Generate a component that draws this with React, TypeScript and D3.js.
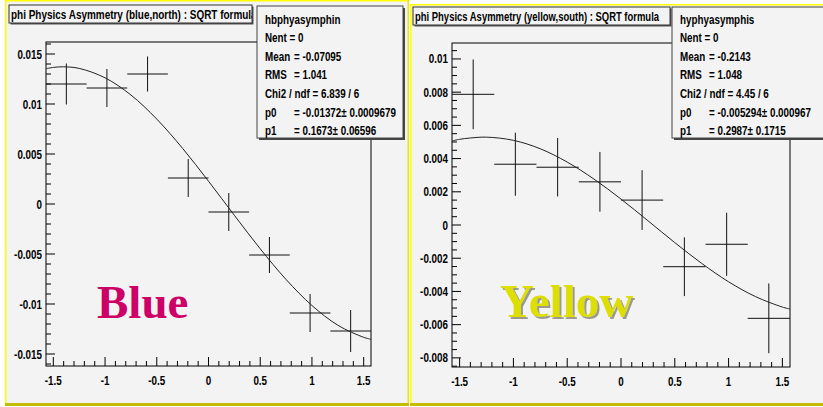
import React from 'react';
import * as d3 from 'd3';

// ---------- data ----------
const binCenters = [-1.374, -0.982, -0.589, -0.196, 0.196, 0.589, 0.982, 1.374];
const binHalfWidth = 0.1963;

const blueValues = [0.012, 0.0116, 0.013, 0.0026, -0.0008, -0.0051, -0.0109, -0.0127];
const blueErrors = [0.00205, 0.0019, 0.00175, 0.0019, 0.0019, 0.0018, 0.0019, 0.0021];

const yellowValues = [0.00787, 0.00366, 0.00348, 0.0026, 0.0015, -0.00251, -0.00116, -0.00562];
const yellowErrors = [0.0021, 0.0019, 0.00176, 0.0018, 0.0018, 0.00177, 0.0019, 0.0021];

const fitX = [-1.571, -1.5, -1.4, -1.25, -1.0, -0.75, -0.5, -0.25, 0, 0.25, 0.5, 0.75, 1.0, 1.25, 1.5, 1.571];
const blueFit = [0.01353, 0.01366, 0.01372, 0.01356, 0.01262, 0.0109, 0.00849, 0.00556, 0.00228, -0.00113, -0.00448, -0.00755, -0.01015, -0.01212, -0.01333, -0.01353];
const yellowFit = [0.00506, 0.00516, 0.00524, 0.00529, 0.0051, 0.00459, 0.00379, 0.00276, 0.00156, 0.00026, -0.00106, -0.00231, -0.00342, -0.00431, -0.00494, -0.00506];

const xTicks = [-1.5, -1, -0.5, 0, 0.5, 1, 1.5];
const blueYTicks = [-0.015, -0.01, -0.005, 0, 0.005, 0.01, 0.015];
const yellowYTicks = [-0.008, -0.006, -0.004, -0.002, 0, 0.002, 0.004, 0.006, 0.008, 0.01];

const blueTitle = 'phi Physics Asymmetry (blue,north) : SQRT formula';
const yellowTitle = 'phi Physics Asymmetry (yellow,south) : SQRT formula';

const blueStatName = 'hbphyasymphin';
const yellowStatName = 'hyphyasymphis';
const blueStatRows: [string, string | null][] = [
  ['Nent = 0', null],
  ['Mean', '= -0.07095'],
  ['RMS', '=  1.041'],
  ['Chi2 / ndf = 6.839 / 6', null],
  ['p0', '= -0.01372\u00b1 0.0009679'],
  ['p1', '= 0.1673\u00b1 0.06596'],
];
const yellowStatRows: [string, string | null][] = [
  ['Nent = 0', null],
  ['Mean', '= -0.2143'],
  ['RMS', '=  1.048'],
  ['Chi2 / ndf =  4.45 / 6', null],
  ['p0', '= -0.005294\u00b1 0.000967'],
  ['p1', '= 0.2987\u00b1 0.1715'],
];

// ---------- styling ----------
const FONT = "'Liberation Sans', Arial, Helvetica, sans-serif";
const SERIF = "'Liberation Serif', 'Times New Roman', serif";
const SX = 0.82;
const BG = '#f3f3f3';

function T({ x, y, anchor = 'start', size = 12, sx = SX, children }: any) {
  return (
    <text
      transform={`translate(${x},${y}) scale(${sx},1)`}
      textAnchor={anchor}
      fontSize={size}
      fontWeight="bold"
      fontFamily={FONT}
      fill="#000"
    >
      {children}
    </text>
  );
}

const fmt = (v: number) => (+v.toFixed(5)).toString();

function Panel({ cfg }: any) {
  const x = d3.scaleLinear().domain([-Math.PI / 2, Math.PI / 2]).range([cfg.fx0, cfg.fx1]);
  const y = d3.scaleLinear().domain(cfg.yDomain).range([cfg.fy1, cfg.fy0]);
  const fitLine = d3
    .line<number>()
    .x((_, i) => x(fitX[i]))
    .y((d) => y(d))
    .curve(d3.curveCatmullRom);

  const xMinor = d3.range(-15, 16).filter((i) => i % 5 !== 0).map((i) => i / 10);
  const yMinor = d3
    .range(Math.ceil(cfg.yDomain[0] / cfg.minor - 1e-6), Math.floor(cfg.yDomain[1] / cfg.minor + 1e-6) + 1)
    .filter((i) => i % cfg.ratio !== 0)
    .map((i) => i * cfg.minor);

  const p = cfg.pad;
  const sb = cfg.stats;
  const rowY = [19.5, 37.5, 56.5, 75, 93.5, 112.5, 131];
  const clipId = `titleclip-${cfg.id}`;
  const filtId = `shadow-${cfg.id}`;

  return (
    <g>
      <defs>
        <filter id={filtId} x="-10%" y="-10%" width="130%" height="140%">
          <feDropShadow dx={2} dy={2} stdDeviation={0.6} floodColor="#9a9a90" floodOpacity={1} />
        </filter>
        <clipPath id={clipId}>
          <rect x={cfg.tb.x} y={cfg.tb.y} width={cfg.tb.w} height={cfg.tb.h} />
        </clipPath>
      </defs>

      {/* pad */}
      <rect x={p.x} y={p.y} width={p.w} height={p.h} fill={BG} />
      <rect x={p.x} y={p.y} width={p.w} height={1.5} fill="#ffff00" />
      <rect x={p.x} y={p.y} width={1.5} height={p.h} fill="#ffff00" />
      <rect x={p.x + p.w - 1.5} y={p.y} width={1.5} height={p.h} fill="#e8e800" />
      <rect x={p.x} y={p.y + p.h - 3} width={p.w} height={3} fill="#c4bc00" />

      {/* ticks */}
      {xTicks.map((t) => (
        <g key={'xt' + t}>
          <line x1={x(t)} x2={x(t)} y1={cfg.fy1} y2={cfg.fy1 - 9} stroke="#000" strokeWidth={1} />
          <T x={x(t)} y={cfg.fy1 + 19} anchor="middle">{fmt(t)}</T>
        </g>
      ))}
      {xMinor.map((t) => (
        <line key={'xm' + t} x1={x(t)} x2={x(t)} y1={cfg.fy1} y2={cfg.fy1 - 5} stroke="#000" strokeWidth={1} />
      ))}
      {cfg.yTicks.map((t: number) => (
        <g key={'yt' + t}>
          <line x1={cfg.fx0} x2={cfg.fx0 + 9} y1={y(t)} y2={y(t)} stroke="#000" strokeWidth={1} />
          <T x={cfg.fx0 - 4} y={y(t) + 4.5} anchor="end">{fmt(t)}</T>
        </g>
      ))}
      {yMinor.map((t: number) => (
        <line key={'ym' + t} x1={cfg.fx0} x2={cfg.fx0 + 5} y1={y(t)} y2={y(t)} stroke="#000" strokeWidth={1} />
      ))}
      <rect x={cfg.fx0} y={cfg.fy0} width={cfg.fx1 - cfg.fx0} height={cfg.fy1 - cfg.fy0} fill="none" stroke="#000" strokeWidth={1} />

      {/* data crosses */}
      {binCenters.map((c, i) => (
        <g key={'pt' + i} stroke="#111" strokeWidth={1}>
          <line x1={x(c - binHalfWidth)} x2={x(c + binHalfWidth)} y1={y(cfg.values[i])} y2={y(cfg.values[i])} />
          <line x1={x(c)} x2={x(c)} y1={y(cfg.values[i] + cfg.errors[i])} y2={y(cfg.values[i] - cfg.errors[i])} />
        </g>
      ))}
      <path d={fitLine(cfg.fit) || ''} fill="none" stroke="#222" strokeWidth={1} />

      {/* big label */}
      <text
        x={cfg.label.x}
        y={cfg.label.y}
        fontSize={47}
        fontWeight="bold"
        fontFamily={SERIF}
        fill={cfg.label.color}
        filter={cfg.shadow ? `url(#${filtId})` : undefined}
      >
        {cfg.label.text}
      </text>

      {/* title box */}
      <rect x={cfg.tb.x + 1.5} y={cfg.tb.y + 1.5} width={cfg.tb.w} height={cfg.tb.h} fill="#555" />
      <rect x={cfg.tb.x} y={cfg.tb.y} width={cfg.tb.w} height={cfg.tb.h} fill={BG} stroke="#333" strokeWidth={1} />
      <g clipPath={`url(#${clipId})`}>
        <T x={cfg.tb.x + 2} y={cfg.tb.y + 14} sx={cfg.tb.sx}>{cfg.title}</T>
      </g>

      {/* stats box */}
      <rect x={sb.x + 2} y={sb.y + 2} width={sb.w} height={sb.h} fill="#444" />
      <rect x={sb.x} y={sb.y} width={sb.w} height={sb.h} fill={BG} stroke="#444" strokeWidth={1} />
      <T x={sb.x + 8} y={rowY[0] + 4}>{cfg.statName}</T>
      {cfg.statRows.map((r: [string, string | null], i: number) => (
        <g key={'sr' + i}>
          <T x={sb.x + 8} y={rowY[i + 1] + 4}>{r[0]}</T>
          {r[1] && <T x={sb.x + 37} y={rowY[i + 1] + 4}>{r[1]}</T>}
        </g>
      ))}
    </g>
  );
}

const panels = [
  {
    id: 'blue',
    pad: { x: 5, y: 0, w: 404, h: 406 },
    fx0: 46, fx1: 371, fy0: 42, fy1: 366,
    yDomain: [-0.0162, 0.0162],
    yTicks: blueYTicks,
    minor: 0.001, ratio: 5,
    values: blueValues, errors: blueErrors, fit: blueFit,
    label: { text: 'Blue', x: 97, y: 318, color: '#cc0066' },
    shadow: false,
    tb: { x: 9, y: 5, w: 243, h: 18, sx: 0.83 },
    title: blueTitle,
    stats: { x: 257, y: 6, w: 146, h: 132 },
    statName: blueStatName,
    statRows: blueStatRows,
  },
  {
    id: 'yellow',
    pad: { x: 410, y: 4, w: 420, h: 402 },
    fx0: 452, fx1: 790, fy0: 43, fy1: 367,
    yDomain: [-0.00855, 0.01096],
    yTicks: yellowYTicks,
    minor: 0.0005, ratio: 4,
    values: yellowValues, errors: yellowErrors, fit: yellowFit,
    label: { text: 'Yellow', x: 500, y: 317, color: '#dede00' },
    shadow: true,
    tb: { x: 413, y: 7, w: 257, h: 18, sx: 0.788 },
    title: yellowTitle,
    stats: { x: 672, y: 7, w: 160, h: 131 },
    statName: yellowStatName,
    statRows: yellowStatRows,
  },
];

export default function App() {
  return (
    <svg
      width={823}
      height={407}
      style={{ position: 'absolute', left: 0, top: 0, background: '#fff' }}
    >
      <rect x={0} y={0} width={823} height={407} fill="#fff" />
      {panels.map((cfg) => (
        <Panel key={cfg.id} cfg={cfg} />
      ))}
    </svg>
  );
}
